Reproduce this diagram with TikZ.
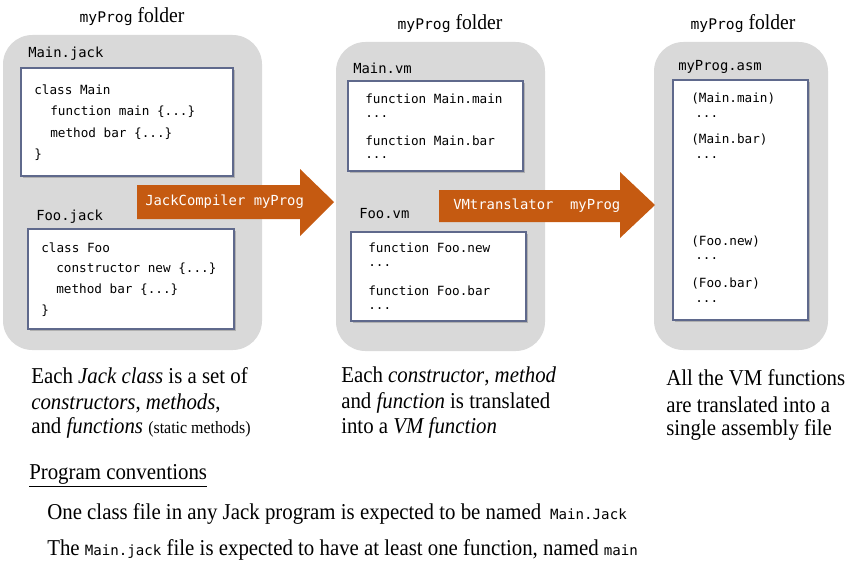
\documentclass[tikz,border=0pt]{standalone}
\usepackage{fontspec}
\setmainfont{Liberation Serif}[FakeStretch=0.92]
\setmonofont{DejaVu Sans Mono}
\usetikzlibrary{shadows}

\definecolor{folderGray}{RGB}{217,217,217}
\definecolor{arrowOrange}{RGB}{197,90,17}
\definecolor{boxFrame}{RGB}{95,105,140}

\tikzset{
  folder/.style={fill=folderGray, rounded corners=22pt},
  filebox/.style={draw=boxFrame, line width=0.9pt, fill=white,
    drop shadow={shadow xshift=1.5pt, shadow yshift=-1.5pt, opacity=0.45}},
  code/.style={anchor=west, inner sep=0.75pt, font=\ttfamily\fontsize{9.5}{11}\selectfont},
  fname/.style={anchor=west, inner sep=0.75pt, font=\ttfamily\fontsize{10.4}{12}\selectfont},
  cmd/.style={anchor=west, inner sep=0.75pt, text=white, font=\ttfamily\fontsize{10.4}{12}\selectfont},
  title/.style={inner sep=0.75pt, font=\fontsize{16}{18}\selectfont},
  note/.style={anchor=west, inner sep=0.75pt, font=\fontsize{17}{20}\selectfont},
}
\newcommand{\fldname}{{\ttfamily\fontsize{11}{12}\selectfont myProg}}
\newcommand{\inlinecode}[1]{{\ttfamily\fontsize{10.6}{11}\selectfont #1}}

\begin{document}
\begin{tikzpicture}[x=0.75pt,y=0.75pt,yscale=-1,xscale=1]
\useasboundingbox (0,0) rectangle (866,585);

%Shape: Folders
\fill[folder] (3,35) rectangle (262,350);
\fill[folder] (336,42) rectangle (545,351);
\fill[folder] (654,42) rectangle (828,350);

% Text Node
\node[title] (titleA) at (132,17) {\fldname{} folder};
\node[title] (titleB) at (450,24) {\fldname{} folder};
\node[title] (titleC) at (743,24) {\fldname{} folder};

%Shape: Main.jack
\draw[filebox] (21,68) rectangle (233,176);
\node[fname] (lblMainJack) at (27,54) {Main.jack};
\node[code] (mj1) at (33,90) {class Main};
\node[code] (mj2) at (49,112) {function main \{...\}};
\node[code] (mj3) at (49,134) {method bar \{...\}};
\node[code] (mj4) at (33,155) {\}};

%Shape: Foo.jack
\draw[filebox] (28,229) rectangle (234,329);
\node[fname] (lblFooJack) at (35,217) {Foo.jack};
\node[code] (fj1) at (40,248) {class Foo};
\node[code] (fj2) at (55,269) {constructor new \{...\}};
\node[code] (fj3) at (55,290) {method bar \{...\}};
\node[code] (fj4) at (40,311) {\}};

%Shape: Main.vm
\draw[filebox] (348,81) rectangle (523,171);
\node[fname] (lblMainVm) at (352,68) {Main.vm};
\node[code] (mv1) at (364,99) {function Main.main};
\node[code] (mv2) at (364,117) {...};
\node[code] (mv3) at (364,141) {function Main.bar};
\node[code] (mv4) at (364,158) {...};

%Shape: Foo.vm
\draw[filebox] (351,232) rectangle (526,321);
\node[fname] (lblFooVm) at (358,214) {Foo.vm};
\node[code] (fv1) at (367,248) {function Foo.new};
\node[code] (fv2) at (367,266) {...};
\node[code] (fv3) at (367,291) {function Foo.bar};
\node[code] (fv4) at (367,309) {...};

%Shape: myProg.asm
\draw[filebox] (673,80) rectangle (808,320);
\node[fname] (lblAsm) at (677,67) {myProg.asm};
\node[code] (as1) at (690,99) {(Main.main)};
\node[code] (as2) at (694,117) {...};
\node[code] (as3) at (690,140) {(Main.bar)};
\node[code] (as4) at (694,158) {...};
\node[code] (as5) at (690,242) {(Foo.new)};
\node[code] (as6) at (694,259) {...};
\node[code] (as7) at (690,284) {(Foo.bar)};
\node[code] (as8) at (694,302) {...};

%Shape: Arrows
\fill[arrowOrange] (137,185) -- (300,185) -- (300,169) -- (334,202) -- (300,236) -- (300,219) -- (137,219) -- cycle;
\node[cmd] (cmdCompile) at (144,202) {JackCompiler myProg};
\fill[arrowOrange] (439,190) -- (620,190) -- (620,172) -- (655,205) -- (620,238) -- (620,222) -- (439,222) -- cycle;
\node[cmd] (cmdTranslate) at (452,206) {VMtranslator\ \ myProg};

% Text Node
\node[note] (noteA1) at (30,376) {Each \textit{Jack class} is a set of};
\node[note] (noteA2) at (30,403) {\textit{constructors}, \textit{methods},};
\node[note] (noteA3) at (30,428) {and \textit{functions} {\fontsize{13}{15}\selectfont(static methods)}};
\node[note] (noteB1) at (340,376) {Each \textit{constructor}, \textit{method}};
\node[note] (noteB2) at (340,403) {and \textit{function} is translated};
\node[note] (noteB3) at (340,428) {into a \textit{VM function}};
\node[note] (noteC1) at (665,378) {All the VM functions};
\node[note] (noteC2) at (665,405) {are translated into a};
\node[note] (noteC3) at (665,430) {single assembly file};

% Text Node
\node[note] (convHead) at (28,476) {\underline{Program conventions}};
\node[note] (conv1) at (46,514) {One class file in any Jack program is expected to be named \,\inlinecode{Main.Jack}};
\node[note] (conv2) at (46,550) {The \inlinecode{Main.jack} file is expected to have at least one function, named \inlinecode{main}};

\end{tikzpicture}
\end{document}
